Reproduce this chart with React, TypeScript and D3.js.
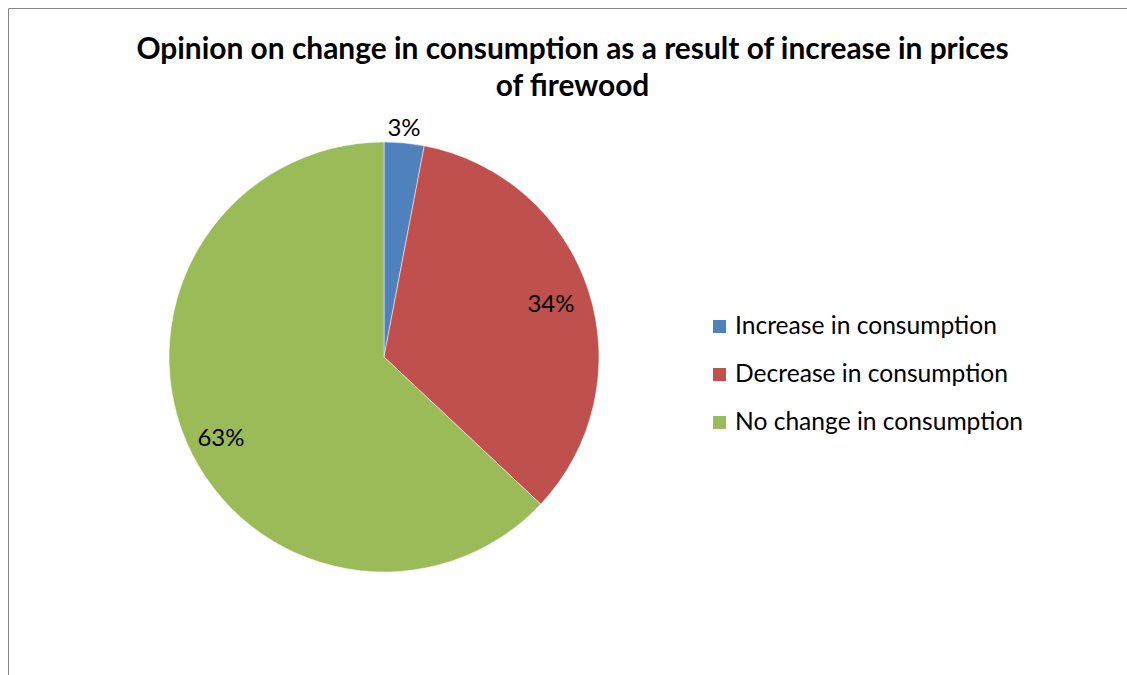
import React from "react";
import * as d3 from "d3";

const categories = ["Increase in consumption", "Decrease in consumption", "No change in consumption"];
const values = [3, 34, 63];
const colors = ["#4F81BD", "#C0504D", "#9BBB59"];
const titleLines = ["Opinion on change in consumption as a result of increase in prices", "of firewood"];

const W = 1127, H = 675;
const FONT = "Lato, 'Open Sans', sans-serif";

export default function App() {
  const cx = 384, cy = 357, r = 215;
  const pie = d3.pie<number>().sort(null).value((d) => d)(values);
  const arc = d3.arc<d3.PieArcDatum<number>>().innerRadius(0).outerRadius(r);
  const labelPos: [number, number][] = [
    [404, 136],
    [551, 312],
    [221, 446],
  ];
  return (
    <svg width={W} height={H} style={{ position: "absolute", left: 0, top: 0 }} fontFamily={FONT}>
      <rect x={0} y={0} width={W} height={H} fill="#fff" />
      <line x1={8.5} y1={8.5} x2={W} y2={8.5} stroke="#868686" strokeWidth={1} />
      <line x1={8.5} y1={8.5} x2={8.5} y2={H} stroke="#868686" strokeWidth={1} />
      {titleLines.map((t, i) => (
        <text key={i} x={572.5} y={59 + i * 37} textAnchor="middle" fontWeight="bold" fontSize={29.9} fill="#000">
          {t}
        </text>
      ))}
      <g transform={`translate(${cx},${cy})`}>
        {pie.map((p, i) => (
          <path key={i} d={arc(p) || ""} fill={colors[i]} stroke="#fff" strokeWidth={0.5} />
        ))}
      </g>
      {pie.map((p, i) => (
        <text key={i} x={labelPos[i][0]} y={labelPos[i][1]} textAnchor="middle" fontSize={24} fill="#000">
          {values[i]}%
        </text>
      ))}
      {categories.map((c, i) => (
        <g key={i} transform={`translate(713,${334 + i * 48})`}>
          <rect x={0} y={-14} width={13} height={13} fill={colors[i]} />
          <text x={22} y={0} fontSize={24.6} fill="#000">
            {c}
          </text>
        </g>
      ))}
    </svg>
  );
}
